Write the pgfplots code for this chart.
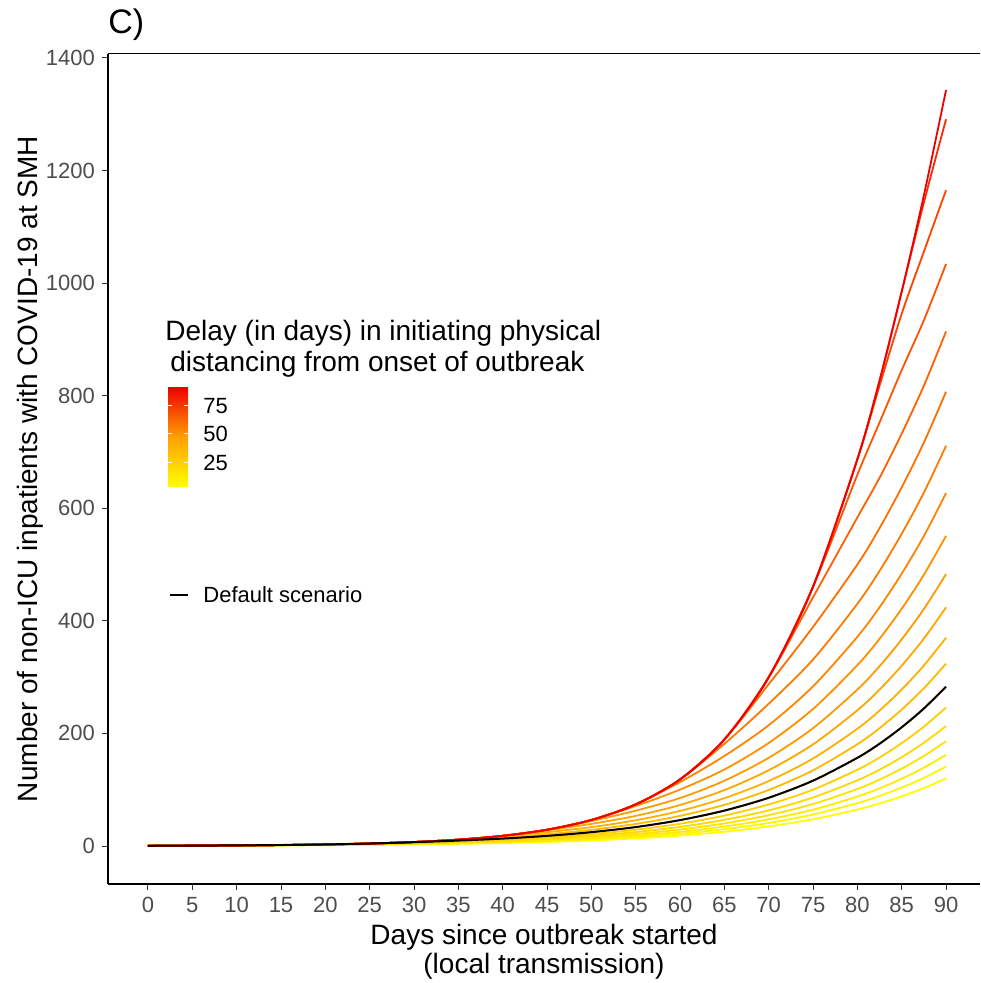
\documentclass[border=0pt]{standalone}
\usepackage{pgfplots}
\pgfplotsset{compat=1.18}
\usepackage{pgfplotstable}
\usepackage{fontspec}
\setmainfont{Liberation Sans}

\definecolor{c0}{RGB}{240,0,0}
\definecolor{c1}{RGB}{255,40,0}
\definecolor{c2}{RGB}{255,66,0}
\definecolor{c3}{RGB}{255,82,0}
\definecolor{c4}{RGB}{255,97,0}
\definecolor{c5}{RGB}{255,111,0}
\definecolor{c6}{RGB}{255,122,0}
\definecolor{c7}{RGB}{255,133,0}
\definecolor{c8}{RGB}{255,144,0}
\definecolor{c9}{RGB}{255,155,0}
\definecolor{c10}{RGB}{255,166,0}
\definecolor{c11}{RGB}{255,176,0}
\definecolor{c12}{RGB}{255,186,0}
\definecolor{c13}{RGB}{255,196,0}
\definecolor{c14}{RGB}{255,207,0}
\definecolor{c15}{RGB}{255,216,0}
\definecolor{c16}{RGB}{255,226,0}
\definecolor{c17}{RGB}{255,236,0}
\definecolor{c18}{RGB}{255,245,0}
\definecolor{c19}{RGB}{255,255,0}
\definecolor{cmid}{RGB}{255,161,0}
\definecolor{ticklab}{RGB}{77,77,77}
\definecolor{tickcol}{RGB}{51,51,51}

\pgfplotstableread{
x k0 k1 k2 k3 k4 k5 k6 k7 k8 k9 k10 k11 k12 k13 k14 k15 k16 k17 k18 k19
0 0.42 0.42 0.42 0.42 0.42 0.42 0.42 0.42 0.42 0.42 0.42 0.42 0.42 0.42 0.42 0.42 0.42 0.42 0.42 0.40
5 0.67 0.67 0.67 0.67 0.67 0.67 0.67 0.67 0.67 0.67 0.67 0.67 0.67 0.67 0.67 0.67 0.67 0.67 0.65 0.58
10 1.08 1.08 1.08 1.08 1.08 1.08 1.08 1.08 1.08 1.08 1.08 1.08 1.08 1.08 1.08 1.08 1.08 1.04 0.92 0.79
15 1.72 1.72 1.72 1.72 1.72 1.72 1.72 1.72 1.72 1.72 1.72 1.72 1.72 1.72 1.72 1.72 1.66 1.47 1.26 1.08
20 2.75 2.75 2.75 2.75 2.75 2.75 2.75 2.75 2.75 2.75 2.75 2.75 2.75 2.75 2.75 2.65 2.35 2.02 1.73 1.48
25 4.40 4.40 4.40 4.40 4.40 4.40 4.40 4.40 4.40 4.40 4.40 4.40 4.40 4.40 4.24 3.76 3.23 2.77 2.38 2.03
30 7.05 7.05 7.05 7.05 7.05 7.05 7.05 7.05 7.05 7.05 7.05 7.05 7.05 6.79 6.03 5.16 4.43 3.80 3.27 2.79
35 11.28 11.28 11.28 11.28 11.28 11.28 11.28 11.28 11.28 11.28 11.28 11.28 10.86 9.64 8.25 7.06 6.06 5.21 4.48 3.83
40 18.04 18.04 18.04 18.04 18.04 18.04 18.04 18.04 18.04 18.04 18.04 17.36 15.4 13.17 11.28 9.66 8.30 7.14 6.14 5.24
45 28.86 28.86 28.86 28.86 28.86 28.86 28.86 28.86 28.86 28.86 27.8 24.6 21.0 18.0 15.4 13.2 11.37 9.79 8.43 7.19
50 46.2 46.2 46.2 46.2 46.2 46.2 46.2 46.2 46.2 44.4 39.3 33.5 28.7 24.6 21.1 18.1 15.6 13.4 11.57 9.85
55 73.9 73.9 73.9 73.9 73.9 73.9 73.9 73.9 71.0 62.8 53.5 45.7 39.2 33.6 28.9 24.8 21.3 18.4 15.9 13.5
60 118.2 118.2 118.2 118.2 118.2 118.2 118.2 113.5 100.2 85.2 72.9 62.3 53.5 46.0 39.5 33.9 29.2 25.2 21.8 18.5
65 189.2 189.2 189.2 189.2 189.2 189.2 181.5 159.9 135.9 115.9 99.3 85.0 73.1 62.9 54.0 46.4 40.1 34.6 29.9 25.4
70 299.7 299.7 299.7 299.7 299.7 287.4 252.7 214.6 183.1 156.7 134.6 115.4 99.5 85.7 73.8 63.3 54.8 47.3 40.9 34.8
75 460.7 460.7 460.7 460.7 441.8 389.2 331.3 283.6 243.4 209.3 180.6 155.4 134.4 116.1 100.1 86.1 74.6 64.5 55.9 47.5
80 687.2 687.2 687.2 659.6 583.7 500.1 430.3 371.7 321.3 277.9 241.1 208.3 180.8 156.7 135.4 116.7 101.3 87.8 76.1 64.7
82.5 826.6 826.6 817.6 752.4 654.1 564.6 488.7 424.1 368.1 319.4 277.9 240.6 209.3 181.7 157.2 135.6 118.0 102.4 88.9 75.6
85 985 985 945.6 845.4 732.5 637.2 554.6 483.8 421.6 367.1 320.3 278.0 242.4 210.9 182.7 157.8 137.4 119.4 103.7 88.2
87.5 1156 1143 1055.9 934 817.8 716.8 627.8 550.6 481.8 421.0 368.5 320.7 280.2 244.3 212.0 183.3 159.9 139.1 120.9 102.9
90 1343 1291 1165 1034 914 807 711 627 551 483 424 370 324 283 246 213 186 162 141 120
}\data

\begin{document}
\begin{tikzpicture}
\useasboundingbox (0,0) rectangle (490pt,491.5pt);
\begin{axis}[
  name=ax,
  at={(54pt,49.5pt)}, anchor=south west,
  scale only axis, width=436pt, height=415pt,
  xmin=-4.51, xmax=93.83, ymin=-67.5, ymax=1407,
  axis x line*=bottom, axis y line*=left,
  axis line style={line width=1pt, black},
  xtick={0,5,...,90}, ytick={0,200,...,1400},
  tick align=outside, major tick length=3pt,
  tick style={color=tickcol, line width=0.5pt},
  tick label style={font=\fontsize{11}{13}\selectfont, color=ticklab},
  /pgf/number format/assume math mode=true,
  /pgf/number format/1000 sep={},
  xlabel={Days since outbreak started\\(local transmission)},
  xlabel style={font=\fontsize{14}{14.5}\selectfont, align=center, at={(axis description cs:0.5,-0.0819)}, anchor=center},
  ylabel={Number of non-ICU inpatients with COVID-19 at SMH},
  ylabel style={font=\fontsize{14}{16}\selectfont, at={(axis description cs:-0.0894,0.5)}, anchor=center, rotate=0},
  every axis plot/.append style={smooth, line width=0.9pt, no marks},
]
\addplot[c19] table[x=x,y=k19]{\data};
\addplot[c18] table[x=x,y=k18]{\data};
\addplot[c17] table[x=x,y=k17]{\data};
\addplot[c16] table[x=x,y=k16]{\data};
\addplot[c15] table[x=x,y=k15]{\data};
\addplot[c14] table[x=x,y=k14]{\data};
\addplot[c13] table[x=x,y=k13]{\data};
\addplot[c12] table[x=x,y=k12]{\data};
\addplot[c11] table[x=x,y=k11]{\data};
\addplot[c10] table[x=x,y=k10]{\data};
\addplot[c9] table[x=x,y=k9]{\data};
\addplot[c8] table[x=x,y=k8]{\data};
\addplot[c7] table[x=x,y=k7]{\data};
\addplot[c6] table[x=x,y=k6]{\data};
\addplot[c5] table[x=x,y=k5]{\data};
\addplot[c4] table[x=x,y=k4]{\data};
\addplot[c3] table[x=x,y=k3]{\data};
\addplot[c2] table[x=x,y=k2]{\data};
\addplot[c1] table[x=x,y=k1]{\data};
\addplot[c0] table[x=x,y=k0]{\data};
\addplot[black, line width=1pt] table[x=x,y=k13]{\data};
\end{axis}
\draw[line width=0.5pt, black] (ax.north west) -- (ax.north east);
% legend, in pixel coordinates of the 980x983 frame
\begin{scope}[x=0.5pt, y=-0.5pt, yshift=491.5pt]
\node[anchor=base west, inner sep=0pt, font=\fontsize{14}{16}\selectfont] at (165,341) {Delay (in days) in initiating physical};
\node[anchor=base west, inner sep=0pt, font=\fontsize{14}{16}\selectfont] at (170,372) {distancing from onset of outbreak};
\shade[top color=c0, bottom color=c19, middle color=cmid] (168,388) rectangle (188,487);
\foreach \yy in {406,434,463} {
  \draw[white, line width=0.5pt] (168,\yy) -- (172,\yy);
  \draw[white, line width=0.5pt] (184,\yy) -- (188,\yy);
}
\node[anchor=west, inner sep=0pt, font=\fontsize{11}{13}\selectfont] at (203,406) {75};
\node[anchor=west, inner sep=0pt, font=\fontsize{11}{13}\selectfont] at (203,434) {50};
\node[anchor=west, inner sep=0pt, font=\fontsize{11}{13}\selectfont] at (203,463) {25};
\draw[black, line width=1pt] (170,595) -- (188,595);
\node[anchor=west, inner sep=0pt, font=\fontsize{11}{13}\selectfont] at (203,595) {Default scenario};
\node[anchor=west, inner sep=0pt, font=\fontsize{17}{19}\selectfont] at (108,25) {C)};
\end{scope}
\end{tikzpicture}
\end{document}
